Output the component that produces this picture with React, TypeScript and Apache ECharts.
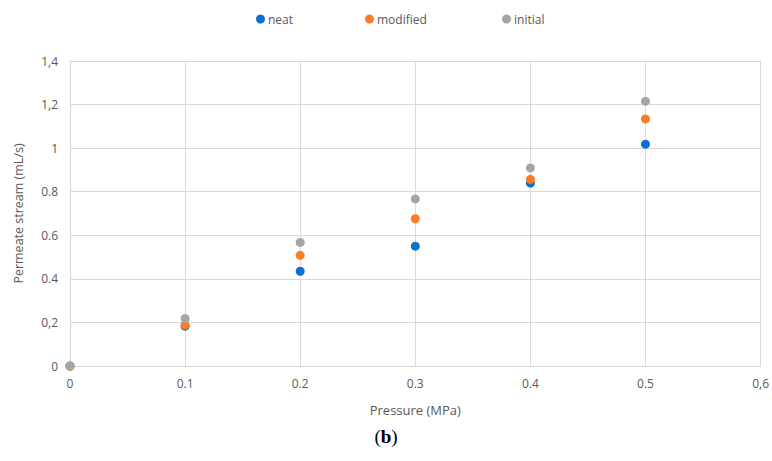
import React, { useEffect, useRef } from "react";
import * as echarts from "echarts";

const pressure = [0, 0.1, 0.2, 0.3, 0.4, 0.5];
const neat = [0, 0.183, 0.435, 0.55, 0.84, 1.018];
const modified = [0, 0.188, 0.508, 0.676, 0.857, 1.134];
const initial = [0, 0.218, 0.567, 0.767, 0.909, 1.215];
const xTickLabels = ["0", "0.1", "0.2", "0.3", "0.4", "0.5", "0,6"];
const yTickLabels = ["0", "0,2", "0.4", "0.6", "0.8", "1", "1,2", "1,4"];
const seriesNames = ["neat", "modified", "initial"];
const seriesColors = ["#0F6FCF", "#FD7D24", "#A5A5A5"];

const FONT = "'Open Sans', 'Noto Sans', sans-serif";
const TXT = "#595959";

export default function App() {
  const ref = useRef<HTMLDivElement>(null);
  useEffect(() => {
    document.body.style.margin = "0";
    const chart = echarts.init(ref.current!, null, { renderer: "svg" });
    const values = [neat, modified, initial];
    const legendLefts = [256, 365, 502];
    chart.setOption({
      animation: false,
      backgroundColor: "#ffffff",
      textStyle: { fontFamily: FONT },
      legend: seriesNames.map((n, i) => ({
        data: [n],
        left: legendLefts[i],
        top: 13,
        icon: "circle",
        itemWidth: 9,
        itemHeight: 9,
        itemGap: 0,
        padding: 0,
        textStyle: { color: TXT, fontSize: 12, fontFamily: FONT, padding: [0, 0, 0, -2] },
      })),
      grid: { left: 70, right: 9, top: 61, bottom: 95, containLabel: false },
      xAxis: {
        type: "value",
        min: 0,
        max: 0.6,
        interval: 0.1,
        name: "Pressure (MPa)",
        nameLocation: "middle",
        nameGap: 37,
        nameTextStyle: { color: TXT, fontSize: 13, fontFamily: FONT },
        axisLine: { show: true, lineStyle: { color: "#d6d6d6", width: 1 } },
        axisTick: { show: false },
        axisLabel: {
          color: TXT,
          fontSize: 12,
          margin: 11,
          fontFamily: FONT,
          formatter: (v: number) => xTickLabels[Math.round(v / 0.1)] ?? "",
        },
        splitLine: { show: true, lineStyle: { color: "#d9d9d9", width: 1 } },
      },
      yAxis: {
        type: "value",
        min: 0,
        max: 1.4,
        interval: 0.2,
        name: "Permeate stream (mL/s)",
        nameLocation: "middle",
        nameGap: 45,
        nameRotate: 90,
        nameTextStyle: { color: TXT, fontSize: 12.5, fontFamily: FONT },
        axisLine: { show: true, lineStyle: { color: "#d6d6d6", width: 1 } },
        axisTick: { show: false },
        axisLabel: {
          color: TXT,
          fontSize: 12,
          margin: 12,
          fontFamily: FONT,
          formatter: (v: number) => yTickLabels[Math.round(v / 0.2)] ?? "",
        },
        splitLine: { show: true, lineStyle: { color: "#d9d9d9", width: 1 } },
      },
      series: seriesNames.map((n, i) => ({
        name: n,
        type: "scatter",
        symbol: "circle",
        symbolSize: 9,
        itemStyle: { color: seriesColors[i], opacity: 1 },
        data: pressure.map((x, j) => [x, values[i][j]]),
        z: 2 + i,
      })),
      graphic: [
        {
          type: "text",
          left: "center",
          top: 427,
          style: {
            text: "({b|b})",
            font: "19px 'Liberation Serif', serif",
            fill: "#000",
            rich: {
              b: { fontWeight: "bold", fontSize: 19, fontFamily: "'Liberation Serif', serif", fill: "#000" },
            },
          },
        },
      ],
    });
    return () => chart.dispose();
  }, []);
  return <div ref={ref} style={{ width: 772, height: 461 }} />;
}
